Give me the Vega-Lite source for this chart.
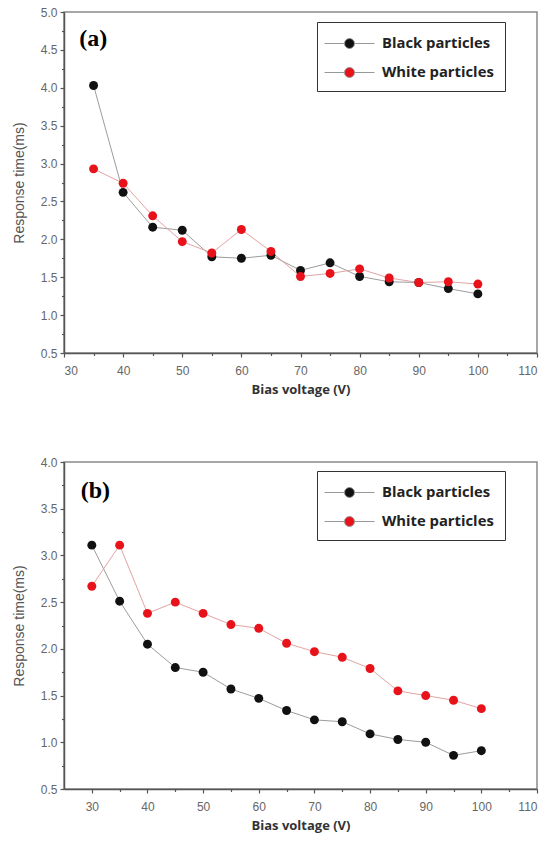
{
  "$schema": "https://vega.github.io/schema/vega-lite/v6.json",
  "padding": {"left": 11, "top": 5, "right": 0, "bottom": 0},
  "background": "white",
  "bounds": "flush",
  "spacing": 109,
  "datasets": {
    "a": [
      {"voltage": 35, "time": 4.03, "series": "Black particles"},
      {"voltage": 40, "time": 2.62, "series": "Black particles"},
      {"voltage": 45, "time": 2.16, "series": "Black particles"},
      {"voltage": 50, "time": 2.12, "series": "Black particles"},
      {"voltage": 55, "time": 1.77, "series": "Black particles"},
      {"voltage": 60, "time": 1.75, "series": "Black particles"},
      {"voltage": 65, "time": 1.79, "series": "Black particles"},
      {"voltage": 70, "time": 1.59, "series": "Black particles"},
      {"voltage": 75, "time": 1.69, "series": "Black particles"},
      {"voltage": 80, "time": 1.51, "series": "Black particles"},
      {"voltage": 85, "time": 1.44, "series": "Black particles"},
      {"voltage": 90, "time": 1.43, "series": "Black particles"},
      {"voltage": 95, "time": 1.35, "series": "Black particles"},
      {"voltage": 100, "time": 1.28, "series": "Black particles"},
      {"voltage": 35, "time": 2.93, "series": "White particles"},
      {"voltage": 40, "time": 2.74, "series": "White particles"},
      {"voltage": 45, "time": 2.31, "series": "White particles"},
      {"voltage": 50, "time": 1.97, "series": "White particles"},
      {"voltage": 55, "time": 1.82, "series": "White particles"},
      {"voltage": 60, "time": 2.13, "series": "White particles"},
      {"voltage": 65, "time": 1.84, "series": "White particles"},
      {"voltage": 70, "time": 1.51, "series": "White particles"},
      {"voltage": 75, "time": 1.55, "series": "White particles"},
      {"voltage": 80, "time": 1.61, "series": "White particles"},
      {"voltage": 85, "time": 1.49, "series": "White particles"},
      {"voltage": 90, "time": 1.43, "series": "White particles"},
      {"voltage": 95, "time": 1.44, "series": "White particles"},
      {"voltage": 100, "time": 1.41, "series": "White particles"}
    ],
    "b": [
      {"voltage": 30, "time": 3.11, "series": "Black particles"},
      {"voltage": 35, "time": 2.51, "series": "Black particles"},
      {"voltage": 40, "time": 2.05, "series": "Black particles"},
      {"voltage": 45, "time": 1.80, "series": "Black particles"},
      {"voltage": 50, "time": 1.75, "series": "Black particles"},
      {"voltage": 55, "time": 1.57, "series": "Black particles"},
      {"voltage": 60, "time": 1.47, "series": "Black particles"},
      {"voltage": 65, "time": 1.34, "series": "Black particles"},
      {"voltage": 70, "time": 1.24, "series": "Black particles"},
      {"voltage": 75, "time": 1.22, "series": "Black particles"},
      {"voltage": 80, "time": 1.09, "series": "Black particles"},
      {"voltage": 85, "time": 1.03, "series": "Black particles"},
      {"voltage": 90, "time": 1.00, "series": "Black particles"},
      {"voltage": 95, "time": 0.86, "series": "Black particles"},
      {"voltage": 100, "time": 0.91, "series": "Black particles"},
      {"voltage": 30, "time": 2.67, "series": "White particles"},
      {"voltage": 35, "time": 3.11, "series": "White particles"},
      {"voltage": 40, "time": 2.38, "series": "White particles"},
      {"voltage": 45, "time": 2.50, "series": "White particles"},
      {"voltage": 50, "time": 2.38, "series": "White particles"},
      {"voltage": 55, "time": 2.26, "series": "White particles"},
      {"voltage": 60, "time": 2.22, "series": "White particles"},
      {"voltage": 65, "time": 2.06, "series": "White particles"},
      {"voltage": 70, "time": 1.97, "series": "White particles"},
      {"voltage": 75, "time": 1.91, "series": "White particles"},
      {"voltage": 80, "time": 1.79, "series": "White particles"},
      {"voltage": 85, "time": 1.55, "series": "White particles"},
      {"voltage": 90, "time": 1.50, "series": "White particles"},
      {"voltage": 95, "time": 1.45, "series": "White particles"},
      {"voltage": 100, "time": 1.36, "series": "White particles"}
    ]
  },
  "vconcat": [
    {
      "width": 473,
      "height": 341,
      "data": {"name": "a"},
      "layer": [
        {
          "mark": {"type": "line", "strokeWidth": 1},
          "encoding": {
            "x": {"field": "voltage", "type": "quantitative", "scale": {"domain": [30, 110], "nice": false, "zero": false},
              "axis": {"title": "Bias voltage (V)", "orient": "bottom", "values": [30,40,50,60,70,80,90,100,110], "tickSize": 4}},
            "y": {"field": "time", "type": "quantitative", "scale": {"domain": [0.5, 5], "nice": false, "zero": false},
              "axis": {"title": "Response time(ms)", "orient": "left", "format": ".1f", "values": [0.5,1,1.5,2,2.5,3,3.5,4,4.5,5], "tickSize": 4}},
            "detail": {"field": "series", "type": "nominal"},
            "color": {"condition": {"test": "datum.series === 'Black particles'", "value": "#9c9c9c"}, "value": "#e3a3a3"}
          }
        },
        {
          "mark": {"type": "point", "filled": true, "size": 80, "opacity": 1},
          "encoding": {
            "x": {"field": "voltage", "type": "quantitative",
              "axis": {"title": null, "orient": "bottom", "labels": false, "domain": false, "values": [35,45,55,65,75,85,95,105], "tickSize": 2.5}},
            "y": {"field": "time", "type": "quantitative",
              "axis": {"title": null, "orient": "left", "labels": false, "domain": false, "values": [0.75,1.25,1.75,2.25,2.75,3.25,3.75,4.25,4.75], "tickSize": 2.5}},
            "color": {"field": "series", "type": "nominal", "scale": {"domain": ["Black particles", "White particles"], "range": ["#111111", "#e8121b"]},
              "legend": {"title": null, "orient": "none", "legendX": 253, "legendY": 10}}
          }
        },
        {
          "data": {"values": [{"lx": 32.6, "ly": 4.65, "label": "(a)"}]},
          "mark": {"type": "text", "font": "Liberation Serif", "fontWeight": "bold", "fontSize": 24, "align": "left", "baseline": "middle", "color": "#000"},
          "encoding": {
            "x": {"field": "lx", "type": "quantitative", "axis": null},
            "y": {"field": "ly", "type": "quantitative", "axis": null},
            "text": {"field": "label"}
          }
        }
      ],
      "resolve": {"axis": {"x": "independent", "y": "independent"}}
    },
    {
      "width": 473,
      "height": 327,
      "data": {"name": "b"},
      "layer": [
        {
          "mark": {"type": "line", "strokeWidth": 1},
          "encoding": {
            "x": {"field": "voltage", "type": "quantitative", "scale": {"domain": [25, 110], "nice": false, "zero": false},
              "axis": {"title": "Bias voltage (V)", "orient": "bottom", "values": [30,40,50,60,70,80,90,100,110], "tickSize": 4}},
            "y": {"field": "time", "type": "quantitative", "scale": {"domain": [0.5, 4], "nice": false, "zero": false},
              "axis": {"title": "Response time(ms)", "orient": "left", "format": ".1f", "values": [0.5,1,1.5,2,2.5,3,3.5,4], "tickSize": 4}},
            "detail": {"field": "series", "type": "nominal"},
            "color": {"condition": {"test": "datum.series === 'Black particles'", "value": "#9c9c9c"}, "value": "#e3a3a3"}
          }
        },
        {
          "mark": {"type": "point", "filled": true, "size": 80, "opacity": 1},
          "encoding": {
            "x": {"field": "voltage", "type": "quantitative",
              "axis": {"title": null, "orient": "bottom", "labels": false, "domain": false, "values": [35,45,55,65,75,85,95,105], "tickSize": 2.5}},
            "y": {"field": "time", "type": "quantitative",
              "axis": {"title": null, "orient": "left", "labels": false, "domain": false, "values": [0.75,1.25,1.75,2.25,2.75,3.25,3.75], "tickSize": 2.5}},
            "color": {"field": "series", "type": "nominal", "scale": {"domain": ["Black particles", "White particles"], "range": ["#111111", "#e8121b"]},
              "legend": {"title": null, "orient": "none", "legendX": 253, "legendY": 9}}
          }
        },
        {
          "data": {"values": [{"lx": 28.0, "ly": 3.69, "label": "(b)"}]},
          "mark": {"type": "text", "font": "Liberation Serif", "fontWeight": "bold", "fontSize": 24, "align": "left", "baseline": "middle", "color": "#000"},
          "encoding": {
            "x": {"field": "lx", "type": "quantitative", "axis": null},
            "y": {"field": "ly", "type": "quantitative", "axis": null},
            "text": {"field": "label"}
          }
        }
      ],
      "resolve": {"axis": {"x": "independent", "y": "independent"}}
    }
  ],
  "resolve": {"scale": {"color": "independent"}, "legend": {"color": "independent"}},
  "config": {
    "view": {"stroke": "#8a8a8a", "strokeWidth": 1.5},
    "axis": {
      "grid": false,
      "domainColor": "#555555",
      "domainWidth": 1.5,
      "tickColor": "#555555",
      "tickWidth": 1.2,
      "labelColor": "#666666",
      "labelFont": "Liberation Sans",
      "labelFontSize": 12,
      "labelPadding": 3,
      "labelOverlap": false,
      "titleColor": "#444444"
    },
    "axisX": {
      "labelPadding": 8,
      "titleFont": "Open Sans",
      "titleFontWeight": "bold",
      "titleFontSize": 13,
      "titleColor": "#333333",
      "titlePadding": 7
    },
    "axisY": {
      "titleFont": "Liberation Sans",
      "titleFontWeight": "normal",
      "titleFontSize": 14,
      "titleColor": "#555555",
      "titlePadding": 14
    },
    "legend": {
      "symbolType": "M-2.5,0L-0.5,0M0.5,0L2.5,0M-0.5,0A0.5,0.5,0,1,1,0.5,0A0.5,0.5,0,1,1,-0.5,0Z",
      "symbolSize": 400,
      "symbolStrokeColor": "#999999",
      "symbolStrokeWidth": 1,
      "symbolOffset": 11,
      "labelFont": "Open Sans",
      "labelFontWeight": "bold",
      "labelFontSize": 14.8,
      "labelColor": "#222222",
      "labelOffset": 22,
      "padding": 11,
      "rowPadding": 11,
      "strokeColor": "#333333",
      "fillColor": "white"
    }
  }
}
